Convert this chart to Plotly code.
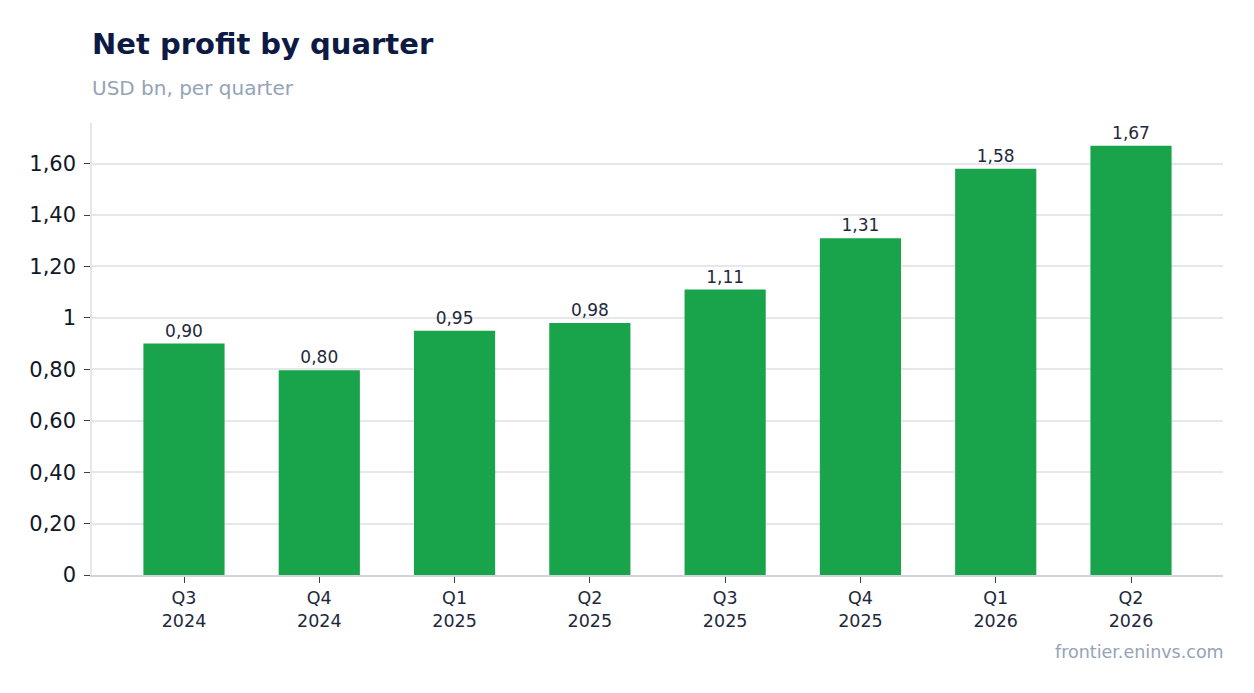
import plotly.graph_objects as go

quarters = ["Q3<br>2024", "Q4<br>2024", "Q1<br>2025", "Q2<br>2025",
            "Q3<br>2025", "Q4<br>2025", "Q1<br>2026", "Q2<br>2026"]
profit = [0.90, 0.796, 0.95, 0.98, 1.11, 1.31, 1.58, 1.67]
y_ticks = [0, 0.2, 0.4, 0.6, 0.8, 1.0, 1.2, 1.4, 1.6]
y_tick_text = ["0", "0,20", "0,40", "0,60", "0,80", "1", "1,20", "1,40", "1,60"]

font = "DejaVu Sans"

fig = go.Figure()
fig.add_trace(go.Bar(
    x=quarters, y=profit,
    marker=dict(color="#19a34a", line=dict(width=0)),
    texttemplate="%{y:.2f}", textposition="outside",
    textfont=dict(size=17, color="#1e293b", family=font),
    cliponaxis=False,
    hoverinfo="skip",
))

fig.update_layout(
    width=1254, height=693,
    margin=dict(l=92, r=31, t=123, b=118),
    plot_bgcolor="white", paper_bgcolor="white",
    separators=",.",
    bargap=0.4,
    showlegend=False,
    font=dict(family=font, color="#1e293b"),
)

fig.update_xaxes(
    range=[-0.68, 7.68],
    showline=True, linecolor="#d1d5db", linewidth=1.5,
    ticks="outside", ticklen=6, tickcolor="#334155",
    tickfont=dict(size=17.5, color="#1e293b"),
    showgrid=False,
)
fig.update_yaxes(
    range=[0, 1.758],
    tickvals=y_ticks, ticktext=y_tick_text,
    showline=True, linecolor="#e5e7eb", linewidth=1.5,
    showgrid=True, gridcolor="#e5e7eb", gridwidth=1.5,
    ticks="outside", ticklen=6, tickcolor="#334155",
    tickfont=dict(size=21, color="#111827"),
    ticklabelstandoff=4,
    zeroline=False,
)

fig.add_annotation(
    text="<b>Net profit by quarter</b>", xref="paper", yref="paper",
    x=0, y=1, yshift=79, xshift=-2, xanchor="left", yanchor="middle", showarrow=False,
    font=dict(size=29, color="#0c1a44", family=font),
)
fig.add_annotation(
    text="USD bn, per quarter", xref="paper", yref="paper",
    x=0, y=1, yshift=35, xshift=-2, xanchor="left", yanchor="middle", showarrow=False,
    font=dict(size=20, color="#94a3b8", family=font),
)
fig.add_annotation(
    text="frontier.eninvs.com", xref="paper", yref="paper",
    x=1, y=0, yshift=-77, xshift=3, xanchor="right", yanchor="middle", showarrow=False,
    font=dict(size=17.5, color="#94a3b8", family=font),
)

fig.write_html("out.html", config={"displayModeBar": False},
               post_script="document.body.style.margin='0';")
